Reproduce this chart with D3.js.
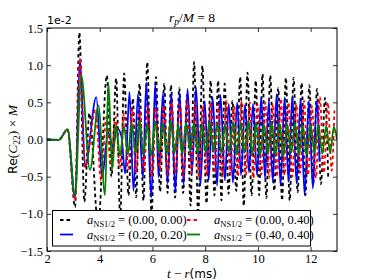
<!DOCTYPE html>
<html>
<head>
<meta charset="utf-8">
<script src="https://cdn.jsdelivr.net/npm/d3@7"></script>
<style>
  body { margin: 0; background: #fff; }
  svg { display: block; }
</style>
</head>
<body>
<svg id="chart" width="374" height="280"></svg>
<script>
// values in units of 1e-2, time in ms
const inspiral = [[2.0, 0], [2.45, -0.005], [2.78, 0.135]]

const black00 = [[3.065,-0.91],[3.228,1.44],[3.418,-0.84],[3.608,0.35],[3.94,-1.15],[4.27,0.86],[4.445,-0.5],[4.624,0.82],[4.776,-1.05],[4.928,0.89],[5.091,-0.75],[5.259,0.55],[5.384,-0.78],[5.51,0.75],[5.658,-0.82],[5.802,1.04],[5.966,-1.0],[6.133,0.84],[6.289,-0.7],[6.449,0.75],[6.574,-0.72],[6.703,0.73],[6.859,-0.78],[7.019,0.69],[7.163,-0.72],[7.312,0.6],[7.445,-0.89],[7.578,1.04],[7.734,-1.0],[7.894,0.99],[8.049,-0.86],[8.209,0.79],[8.35,-0.75],[8.49,0.79],[8.616,-0.82],[8.741,0.75],[8.886,-0.73],[9.034,0.52],[9.179,-0.69],[9.327,0.84],[9.464,-0.89],[9.605,0.9],[9.76,-0.75],[9.92,0.79],[10.046,-0.75],[10.175,0.88],[10.319,-0.79],[10.468,0.86],[10.62,-0.69],[10.772,0.69],[10.916,-0.82],[11.061,0.83],[11.205,-0.82],[11.354,0.83],[11.506,-0.71],[11.658,0.76],[11.802,-0.75],[11.951,0.73],[12.095,-0.62],[12.24,0.68],[12.392,-0.6],[12.544,0.56],[12.665,-0.5]]

const blue20 = [[3.065,-0.8],[3.25,1.09],[3.445,-0.37],[3.87,0.57],[4.09,-0.5],[4.32,0.1],[4.5,-0.1],[4.66,0.15],[4.82,0.05],[4.966,-0.46],[5.129,0.64],[5.281,-0.69],[5.449,0.61],[5.639,-0.52],[5.764,0.77],[5.954,-0.78],[6.106,0.75],[6.232,-0.51],[6.399,0.62],[6.574,-0.59],[6.715,0.62],[6.867,-0.71],[7.03,0.62],[7.183,-0.6],[7.33,0.68],[7.502,-0.45],[7.654,0.7],[7.817,-0.62],[7.981,0.52],[8.133,-0.55],[8.285,0.57],[8.452,-0.62],[8.578,0.6],[8.749,-0.55],[8.894,0.48],[9.053,-0.58],[9.213,0.5],[9.358,-0.48],[9.51,0.47],[9.662,-0.44],[9.814,0.48],[9.966,-0.48],[10.125,0.57],[10.27,-0.52],[10.414,0.52],[10.563,-0.57],[10.707,0.61],[10.859,-0.62],[11.011,0.57],[11.163,-0.57],[11.304,0.59],[11.468,-0.59],[11.62,0.55],[11.772,-0.75],[11.935,0.52],[12.084,-0.66],[12.228,0.52],[12.34,-0.3]]

const red04 = [[3.065,-0.82],[3.25,1.09],[3.445,-0.37],[3.84,0.4],[4.05,-0.55],[4.25,0.3],[4.42,-0.35],[4.6,0.3],[4.76,-0.38],[4.92,0.35],[5.08,-0.4],[5.23,0.42],[5.38,-0.45],[5.53,0.38],[5.68,-0.42],[5.83,0.45],[5.98,-0.5],[6.13,0.42],[6.28,-0.4],[6.43,0.45],[6.58,-0.48],[6.73,0.5],[6.88,-0.45],[7.03,0.48],[7.17,-0.5],[7.32,0.52],[7.47,-0.45],[7.62,0.5],[7.77,-0.52],[7.91,0.45],[8.06,-0.48],[8.21,0.5],[8.36,-0.45],[8.5,0.47],[8.65,-0.5],[8.8,0.52],[8.95,-0.47],[9.1,0.45],[9.24,-0.5],[9.39,0.52],[9.54,-0.48],[9.69,0.5],[9.83,-0.52],[9.98,0.48],[10.13,-0.47],[10.28,0.5],[10.42,-0.52],[10.57,0.48],[10.72,-0.5],[10.87,0.55],[11.01,-0.48],[11.16,0.5],[11.31,-0.5],[11.46,0.48],[11.6,-0.45],[11.75,0.52],[11.9,-0.48],[12.05,0.45],[12.2,-0.52],[12.35,0.57],[12.5,-0.45],[12.65,0.5],[12.8,-0.42],[12.9,0.39]]

const green44 = [[3.065,-0.75],[3.3,0.86],[3.63,-0.41],[3.95,0.46],[4.2,-0.75],[4.33,0.77],[4.47,-0.4],[4.62,0.2],[4.77,-0.22],[4.92,0.18],[5.07,-0.2],[5.21,0.22],[5.36,-0.18],[5.51,0.25],[5.66,-0.2],[5.8,0.2],[5.95,-0.22],[6.1,0.24],[6.25,-0.17],[6.39,0.22],[6.54,-0.2],[6.69,0.25],[6.84,-0.18],[6.98,0.2],[7.13,-0.2],[7.28,0.23],[7.43,-0.15],[7.57,0.22],[7.72,-0.18],[7.87,0.2],[8.02,-0.17],[8.16,0.24],[8.31,-0.15],[8.46,0.22],[8.61,-0.18],[8.75,0.2],[8.9,-0.17],[9.05,0.23],[9.2,-0.2],[9.34,0.22],[9.49,-0.18],[9.64,0.25],[9.79,-0.2],[9.93,0.22],[10.08,-0.22],[10.23,0.2],[10.38,-0.19],[10.52,0.23],[10.67,-0.2],[10.82,0.21],[10.97,-0.22],[11.11,0.2],[11.26,-0.18],[11.41,0.22],[11.56,-0.2],[11.7,0.19],[11.85,-0.21],[12.0,0.2],[12.15,-0.18],[12.29,0.2],[12.44,-0.19],[12.59,0.18],[12.74,-0.18],[12.88,0.17],[13.0,0.0]]

const xTicks = [2, 4, 6, 8, 10, 12]
const yTicks = [-1.5, -1.0, -0.5, 0.0, 0.5, 1.0, 1.5]

const series = [
  { key: 'black', data: black00, color: '#000000', dash: '3.5,3', label: '(0.00, 0.00)' },
  { key: 'blue', data: blue20, color: '#0000ff', dash: null, label: '(0.20, 0.20)' },
  { key: 'red', data: red04, color: '#ff0000', dash: '3.5,3', label: '(0.00, 0.40)' },
  { key: 'green', data: green44, color: '#008000', dash: null, label: '(0.40, 0.40)' }
]

const margin = { left: 47, right: 37, top: 28, bottom: 29 }
const W = 374, H = 280
const width = W - margin.left - margin.right
const height = H - margin.top - margin.bottom

const svg = d3.select('#chart')
const serif = '"Liberation Serif", "DejaVu Serif", serif'
const sans = '"DejaVu Sans", sans-serif'

const x = d3.scaleLinear().domain([2, 13]).range([0, width])
const y = d3.scaleLinear().domain([-1.5, 1.5]).range([height, 0])

const g = svg.append('g').attr('transform', 'translate(' + margin.left + ',' + margin.top + ')')

g.append('clipPath').attr('id', 'plotclip')
  .append('rect').attr('width', width).attr('height', height)

const line = d3.line()
  .x(d => x(d[0]))
  .y(d => y(d[1]))
  .curve(d3.curveMonotoneX)

const plot = g.append('g').attr('clip-path', 'url(#plotclip)')
series.forEach(s => {
  plot.append('path')
    .datum(inspiral.concat(s.data))
    .attr('fill', 'none')
    .attr('stroke', s.color)
    .attr('stroke-width', 1.8)
    .attr('stroke-dasharray', s.dash)
    .attr('d', line)
})

// axes, ticks pointing inward on all four sides
const fmt = d3.format('.1f')
const styleAxis = sel => {
  sel.select('.domain').remove()
  sel.selectAll('.tick line').attr('stroke', '#000').attr('stroke-width', 0.8)
  sel.selectAll('.tick text').attr('font-family', serif).attr('font-size', 12.5).attr('fill', '#000')
}

g.append('g').attr('transform', 'translate(0,' + height + ')')
  .call(d3.axisBottom(x).tickValues(xTicks).tickFormat(d3.format('d')).tickSize(-4).tickPadding(3))
  .call(styleAxis)
g.append('g')
  .call(d3.axisTop(x).tickValues(xTicks).tickFormat('').tickSize(-4))
  .call(styleAxis)
g.append('g')
  .call(d3.axisLeft(y).tickValues(yTicks).tickFormat(fmt).tickSize(-4).tickPadding(4))
  .call(styleAxis)
g.append('g').attr('transform', 'translate(' + width + ',0)')
  .call(d3.axisRight(y).tickValues(yTicks).tickFormat('').tickSize(-4))
  .call(styleAxis)

g.append('rect')
  .attr('width', width).attr('height', height)
  .attr('fill', 'none').attr('stroke', '#000').attr('stroke-width', 1)

// offset text
g.append('text').attr('x', 0).attr('y', -4)
  .attr('font-family', sans).attr('font-size', 11).text('1e-2')

// title
const title = svg.append('text')
  .attr('x', margin.left + width / 2).attr('y', 22)
  .attr('text-anchor', 'middle')
  .attr('font-family', serif).attr('font-size', 13.5)
title.append('tspan').attr('font-style', 'italic').text('r')
title.append('tspan').attr('font-style', 'italic').attr('font-size', 9.5).attr('dy', 3).text('p')
title.append('tspan').attr('dy', -3).text('/')
title.append('tspan').attr('font-style', 'italic').text('M')
title.append('tspan').text(' = 8')

// x label
const xl = svg.append('text')
  .attr('x', margin.left + width / 2).attr('y', 278)
  .attr('text-anchor', 'middle').attr('font-size', 13)
xl.append('tspan').attr('font-family', serif).attr('font-style', 'italic').text('t')
xl.append('tspan').attr('font-family', serif).text(' − ')
xl.append('tspan').attr('font-family', serif).attr('font-style', 'italic').text('r')
xl.append('tspan').attr('font-family', sans).attr('font-size', 12).text('(ms)')

// y label
const yl = svg.append('text')
  .attr('transform', 'translate(17,' + (margin.top + height / 2) + ') rotate(-90)')
  .attr('text-anchor', 'middle').attr('font-size', 13.5)
yl.append('tspan').attr('font-family', sans).attr('font-size', 12.5).text('Re')
yl.append('tspan').attr('font-family', serif).text('(')
yl.append('tspan').attr('font-family', serif).attr('font-style', 'italic').text('C')
yl.append('tspan').attr('font-family', serif).attr('font-size', 9.5).attr('dy', 3).text('22')
yl.append('tspan').attr('font-family', serif).attr('dy', -3).text(') × ')
yl.append('tspan').attr('font-family', serif).attr('font-style', 'italic').text('M')

// legend, two columns
const legend = svg.append('g')
legend.append('rect')
  .attr('x', 52.5).attr('y', 210.5).attr('width', 258).attr('height', 35.5)
  .attr('fill', '#fff').attr('stroke', '#000').attr('stroke-width', 1)

series.forEach((s, i) => {
  const col = i < 2 ? 0 : 1
  const row = i % 2
  const lx = col === 0 ? 60 : 187
  const ly = 220 + row * 14.5
  legend.append('line')
    .attr('x1', lx).attr('x2', lx + 13).attr('y1', ly).attr('y2', ly)
    .attr('stroke', s.color).attr('stroke-width', 1.8)
    .attr('stroke-dasharray', s.dash)
  const t = legend.append('text')
    .attr('x', lx + 27).attr('y', ly + 4)
    .attr('font-family', serif).attr('font-size', 12.5)
  t.append('tspan').attr('font-style', 'italic').text('a')
  t.append('tspan').attr('font-size', 8.5).attr('dy', 2.5).text('NS1/2')
  t.append('tspan').attr('dy', -2.5).text(' = ' + s.label)
})
</script>
</body>
</html>
